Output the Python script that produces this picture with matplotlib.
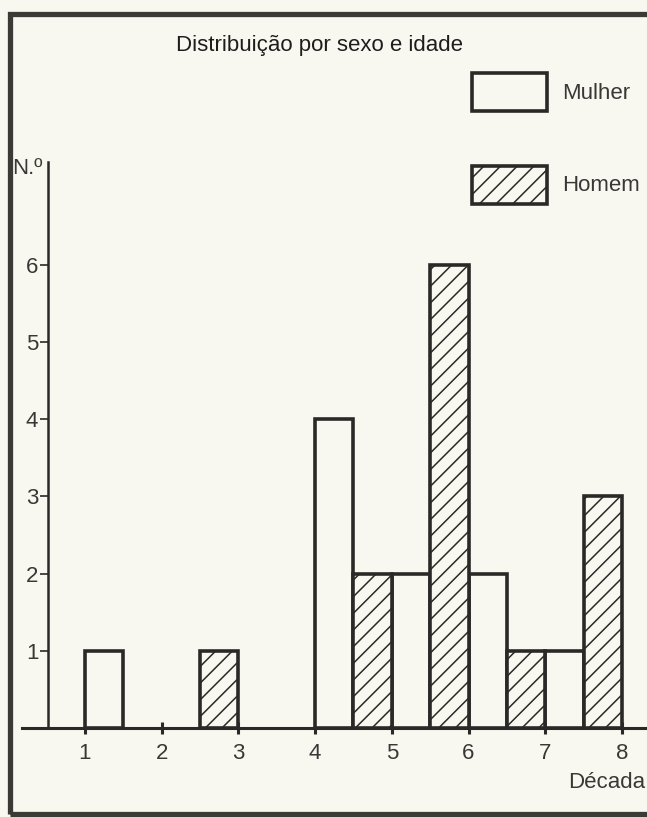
import numpy as np
import matplotlib.pyplot as plt
from matplotlib.patches import Patch, Rectangle

# dados
decadas = np.array([1, 2, 3, 4, 5, 6, 7, 8])
mulher = np.array([1, 0, 0, 4, 2, 2, 1, 0])
homem = np.array([0, 0, 1, 0, 2, 6, 1, 3])
y_ticks = [1, 2, 3, 4, 5, 6]

titulo = 'Distribuição por sexo e idade'
rot_y = 'N.º'
rot_x = 'Década'

fundo = '#f9f8f0'
tinta = '#2b2927'

plt.rcParams['font.family'] = ['Liberation Sans', 'DejaVu Sans']
plt.rcParams['hatch.linewidth'] = 1.1
plt.rcParams['hatch.color'] = tinta

fig = plt.figure(figsize=(6.47, 8.17), dpi=100, facecolor=fundo)
W, H = 647, 817

# eixos: baseline em y=728px, x=1 em 85px, 76.7 px por década
ax = fig.add_axes([22 / W, 89 / H, 625 / W, 566 / H])
ax.set_facecolor(fundo)
ax.set_xlim(0.179, 8.326)
ax.set_ylim(0, 7.33)

m = mulher > 0
h = homem > 0
ax.bar(decadas[m], mulher[m], width=0.5, align='edge', facecolor=fundo,
       edgecolor=tinta, linewidth=2.6, zorder=3)
ax.bar(decadas[h], homem[h], width=-0.5, align='edge', facecolor=fundo,
       edgecolor=tinta, linewidth=2.6, hatch='//', zorder=3)

for s in ['top', 'right']:
    ax.spines[s].set_visible(False)
ax.spines['left'].set_position(('data', 0.518))
ax.spines['left'].set_linewidth(1.8)
ax.spines['left'].set_color(tinta)
ax.spines['bottom'].set_linewidth(2.2)
ax.spines['bottom'].set_color(tinta)

ax.set_xticks(decadas)
ax.set_xticklabels([str(d) for d in decadas])
ax.set_yticks(y_ticks)
ax.set_yticklabels([str(v) for v in y_ticks])
ax.tick_params(axis='x', direction='inout', length=8, width=2.2, pad=7,
               labelsize=16, colors=tinta, labelcolor='#3a3836')
ax.tick_params(axis='y', direction='out', length=6, width=1.2, pad=1,
               labelsize=16, colors=tinta, labelcolor='#3a3836')

# legenda
handles = [Patch(facecolor=fundo, edgecolor=tinta, linewidth=2.6, label='Mulher'),
           Patch(facecolor=fundo, edgecolor=tinta, linewidth=2.6, hatch='//', label='Homem')]
fig.legend(handles=handles, loc='upper left', bbox_to_anchor=(472 / W, 1 - 73 / H),
           frameon=False, fontsize=16, handlelength=3.38, handleheight=2.26,
           labelspacing=2.45, handletextpad=0.68, borderpad=0, borderaxespad=0,
           labelcolor='#3a3836')

fig.text(320 / W, 1 - 46 / H, titulo, ha='center', va='center', fontsize=16,
         color='#1f1d1c')
fig.text(42 / W, 1 - 169 / H, rot_y, ha='right', va='center', fontsize=16,
         color='#3a3836')
fig.text(645 / W, 1 - 783 / H, rot_x, ha='right', va='center', fontsize=16,
         color='#3a3836')

# moldura da figura (lado direito cortado)
fig.patches.append(Rectangle((10 / W, 3 / H), 1.2, 1 - 17 / H, transform=fig.transFigure,
                             fill=False, edgecolor='#3b3a37', linewidth=3.8))

fig.savefig('out.png', dpi=100, facecolor=fundo)
